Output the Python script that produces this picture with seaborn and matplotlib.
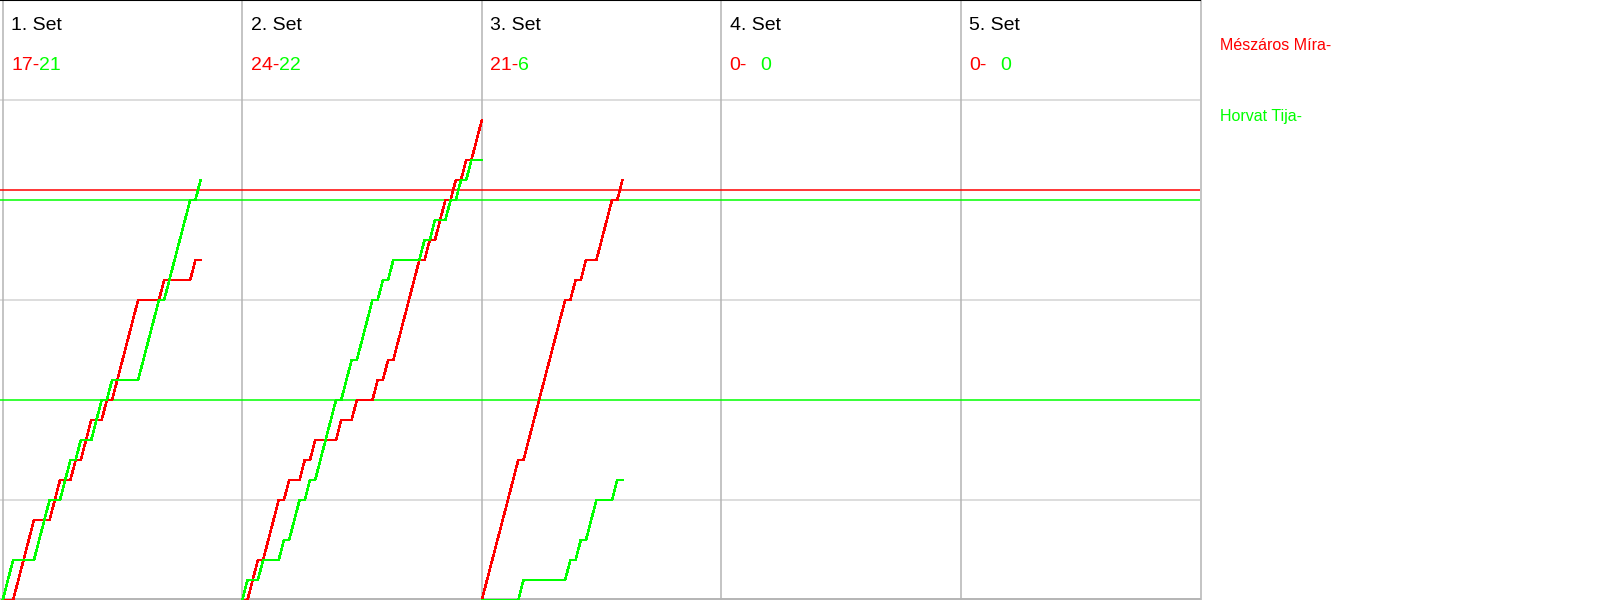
import numpy as np
import pandas as pd
import seaborn as sns
import matplotlib.pyplot as plt

# who won each rally, set by set (R = Mészáros Míra, G = Horvat Tija)
set_names = ['1. Set', '2. Set', '3. Set', '4. Set', '5. Set']
set_rallies = [
    'GGRRRRGGGRRGGRGRRGGRGRRRRRGGGGRGGGGGRG',
    'GRRGRRRGRGGRGRGGGGRGGRGGGRGRGRRRRRGRGRRGRGRGRR',
    'RRRRRRRGRRRRRRRRGRGRGGRRRGR',
    '',
    '',
]
players = ['Mészáros Míra', 'Horvat Tija']
player_codes = ['R', 'G']
colors = ['#ff0000', '#00ff00']
# horizontal marker levels (score)
red_levels = [20.5]
green_levels = [20, 10]
grid_levels = [5, 15, 25]
slots_per_set = 46

# build long table: score after each rally
parts = []
for k, rallies in enumerate(set_rallies):
    if not rallies:
        continue
    for name, code in zip(players, player_codes):
        score = np.concatenate([[0], np.cumsum([c == code for c in rallies])])
        parts.append(pd.DataFrame({
            'x': k * slots_per_set + np.arange(len(score)),
            'score': score,
            'player': name,
            'set': k,
        }))
df = pd.concat(parts, ignore_index=True)

sns.set_style('white')
plt.rcParams['font.family'] = ['Liberation Sans', 'DejaVu Sans']

fig = plt.figure(figsize=(16, 6), dpi=100)
ax = fig.add_axes([0, 0, 0.75, 1])

# background grid
for lv in grid_levels:
    ax.axhline(lv, color='#d3d3d3', lw=1.1, zorder=0.5)
ax.axhline(0.04, color='#b4b4b4', lw=1.4, zorder=0.5, clip_on=False)
for k in range(len(set_names) + 1):
    ax.axvline(k * slots_per_set, color='#b4b4b4', lw=1.1, zorder=0.6, clip_on=False)

for lv in red_levels:
    ax.axhline(lv, color=colors[0], lw=1.1, zorder=1.5)
for lv in green_levels:
    ax.axhline(lv, color=colors[1], lw=1.1, zorder=1.5)

sns.lineplot(data=df, x='x', y='score', hue='player', units='set',
             estimator=None, hue_order=players,
             palette=dict(zip(players, colors)), legend=False, ax=ax,
             linewidth=1.1, marker='s', markersize=1.8, markeredgewidth=0,
             antialiased=False, zorder=3)

ax.set_xlim(-0.52, 229.9)
ax.set_ylim(0, 30)
ax.set_xticks([])
ax.set_yticks([])
ax.set_xlabel('')
ax.set_ylabel('')
for side in ['left', 'right', 'bottom']:
    ax.spines[side].set_visible(False)
ax.spines['top'].set_color('black')
ax.spines['top'].set_linewidth(1.5)

# set headers and scores
for k, name in enumerate(set_names):
    x0 = k * slots_per_set + 1.6
    ax.text(x0, 28.5, name, fontsize=14, color='black', ha='left', va='baseline')
    r = set_rallies[k].count('R')
    g = set_rallies[k].count('G')
    t = ax.text(x0, 26.5, f'{r}-', fontsize=14, color=colors[0],
                ha='left', va='baseline')
    gap = 0 if set_rallies[k] else 9.5
    ax.annotate(f'{g}', xy=(1, 0), xycoords=t, xytext=(gap, 0),
                textcoords='offset points', fontsize=14, color=colors[1],
                ha='left', va='bottom')

# player names on the right
fig.text(1220 / 1600, 1 - 50 / 600, players[0] + '-', color=colors[0],
         fontsize=11.5, va='baseline', ha='left')
fig.text(1220 / 1600, 1 - 120.5 / 600, players[1] + '-', color=colors[1],
         fontsize=11.5, va='baseline', ha='left')

fig.savefig('out.png', dpi=100)
